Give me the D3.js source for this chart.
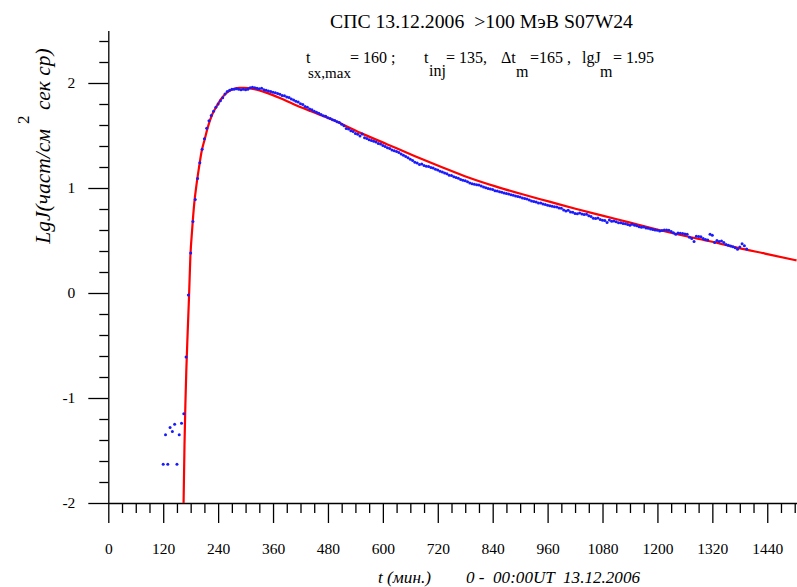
<!DOCTYPE html>
<html>
<head>
<meta charset="utf-8">
<script src="https://cdn.jsdelivr.net/npm/d3@7"></script>
<style>
  body { margin: 0; background: #fff; }
  svg { display: block; }
  text { font-family: "Liberation Serif", "Times New Roman", serif; fill: #000; white-space: pre; }
</style>
</head>
<body>
<div id="svg-container"></div>
<script>
// tick labels
const xMajorTicks = [0, 120, 240, 360, 480, 600, 720, 840, 960, 1080, 1200, 1320, 1440]
const yMajorTicks = [-2, -1, 0, 1, 2]

// observed flux: [t (min), lgJ]
const observed = [
  [120, -1.63], [125, -1.35], [130, -1.63], [135, -1.28], [140, -1.32], [145, -1.25], [150, -1.63], [155, -1.35],
  [160, -1.24], [165, -1.15], [170, -0.61], [175, -0.02], [180, 0.38], [185, 0.68], [190, 0.89], [195, 1.09],
  [200, 1.24], [205, 1.37], [210, 1.47], [215, 1.57], [220, 1.64], [225, 1.69], [230, 1.73], [235, 1.77],
  [240, 1.80], [245, 1.83], [250, 1.86], [255, 1.895], [260, 1.92], [265, 1.93], [270, 1.94], [275, 1.94],
  [280, 1.945], [285, 1.94], [290, 1.935], [295, 1.94], [300, 1.935], [305, 1.94], [310, 1.955], [315, 1.96],
  [320, 1.955], [325, 1.95], [330, 1.945], [335, 1.95], [340, 1.935], [345, 1.93], [350, 1.925], [355, 1.918],
  [360, 1.912], [365, 1.907], [370, 1.899], [375, 1.893], [380, 1.881], [385, 1.878], [390, 1.866], [395, 1.862],
  [400, 1.848], [405, 1.839], [410, 1.826], [415, 1.818], [420, 1.803], [425, 1.795], [430, 1.777], [435, 1.769],
  [440, 1.752], [445, 1.745], [450, 1.732], [455, 1.722], [460, 1.712], [465, 1.70], [470, 1.688], [475, 1.683],
  [480, 1.668], [485, 1.661], [490, 1.650], [495, 1.643], [500, 1.632], [505, 1.625], [510, 1.607], [515, 1.593],
  [520, 1.567], [525, 1.561], [530, 1.545], [535, 1.538], [540, 1.52], [545, 1.512], [550, 1.496], [555, 1.515],
  [560, 1.478], [565, 1.472], [570, 1.46], [575, 1.452], [580, 1.445], [585, 1.438], [590, 1.425], [595, 1.418],
  [600, 1.405], [605, 1.395], [610, 1.384], [615, 1.376], [620, 1.362], [625, 1.355], [630, 1.348], [635, 1.338],
  [640, 1.325], [645, 1.312], [650, 1.30], [655, 1.288], [660, 1.275], [665, 1.262], [670, 1.245], [675, 1.238],
  [680, 1.224], [685, 1.228], [690, 1.215], [695, 1.206], [700, 1.204], [705, 1.196], [710, 1.19], [715, 1.178],
  [720, 1.172], [725, 1.16], [730, 1.152], [735, 1.143], [740, 1.135], [745, 1.122], [750, 1.118], [755, 1.108],
  [760, 1.10], [765, 1.092], [770, 1.08], [775, 1.074], [780, 1.068], [785, 1.06], [790, 1.047], [795, 1.04],
  [800, 1.036], [805, 1.03], [810, 1.028], [815, 1.02], [820, 1.01], [825, 1.002], [830, 0.995], [835, 0.99],
  [840, 0.985], [845, 0.975], [850, 0.972], [855, 0.965], [860, 0.96], [865, 0.952], [870, 0.948], [875, 0.942],
  [880, 0.935], [885, 0.93], [890, 0.925], [895, 0.918], [900, 0.915], [905, 0.905], [910, 0.90], [915, 0.895],
  [920, 0.885], [925, 0.876], [930, 0.872], [935, 0.866], [940, 0.858], [945, 0.856], [950, 0.848], [955, 0.842],
  [960, 0.836], [965, 0.83], [970, 0.826], [975, 0.822], [980, 0.818], [985, 0.81], [990, 0.806], [995, 0.79],
  [1000, 0.782], [1005, 0.788], [1010, 0.772], [1015, 0.768], [1020, 0.758], [1025, 0.755], [1030, 0.762], [1035, 0.752],
  [1040, 0.748], [1045, 0.75], [1050, 0.735], [1055, 0.728], [1060, 0.712], [1065, 0.71], [1070, 0.715], [1075, 0.70],
  [1080, 0.692], [1085, 0.69], [1090, 0.672], [1095, 0.695], [1100, 0.684], [1105, 0.686], [1110, 0.678], [1115, 0.67],
  [1120, 0.668], [1125, 0.663], [1130, 0.66], [1135, 0.652], [1140, 0.645], [1145, 0.655], [1150, 0.645], [1155, 0.64],
  [1160, 0.632], [1165, 0.626], [1170, 0.628], [1175, 0.62], [1180, 0.616], [1185, 0.61], [1190, 0.605], [1195, 0.60],
  [1200, 0.598], [1205, 0.59], [1210, 0.595], [1215, 0.60], [1220, 0.60], [1225, 0.597], [1230, 0.585], [1235, 0.575],
  [1240, 0.56], [1245, 0.572], [1250, 0.57], [1255, 0.566], [1260, 0.563], [1265, 0.56], [1270, 0.53], [1275, 0.52],
  [1280, 0.49], [1285, 0.54], [1290, 0.538], [1295, 0.536], [1300, 0.52], [1305, 0.51], [1310, 0.505], [1315, 0.56],
  [1320, 0.55], [1325, 0.48], [1330, 0.50], [1335, 0.49], [1340, 0.495], [1345, 0.48], [1350, 0.463], [1355, 0.455],
  [1360, 0.448], [1365, 0.44], [1370, 0.43], [1375, 0.416], [1380, 0.438], [1385, 0.47], [1390, 0.45], [1395, 0.42]
]

// fitted curve: [t (min), lgJ]
const fitted = [
  [164.5, -2.0], [166.5, -1.45], [168.5, -1.05], [170.4, -0.75], [173.4, -0.38], [176.3, -0.05], [179.2, 0.33],
  [183.2, 0.6], [188, 0.86], [193, 1.04], [198, 1.19], [204, 1.35], [211, 1.47], [217.5, 1.58], [227, 1.70],
  [237, 1.78], [247, 1.85], [257, 1.90], [267, 1.93], [276.5, 1.948], [286, 1.955], [296, 1.955], [306, 1.952],
  [316, 1.944], [330.5, 1.928], [345, 1.908], [375, 1.857], [404, 1.80], [443, 1.73], [492.5, 1.645], [551, 1.525],
  [610, 1.415], [669, 1.305], [728, 1.2], [787, 1.1], [846, 1.015], [905, 0.94], [964, 0.87], [1023, 0.80],
  [1082, 0.735], [1140.5, 0.67], [1199.5, 0.605], [1258, 0.545], [1317, 0.49], [1376, 0.43], [1435, 0.375], [1504, 0.31]
]

const width = 797
const height = 587
const svg = d3.select('#svg-container').append('svg')
  .attr('width', width).attr('height', height)

//schalen, in pixels van de hele figuur
const x = d3.scaleLinear().domain([0, 1505]).range([108.3, 797])
const y = d3.scaleLinear().domain([-2, 2.5]).range([503, 30.5])

const xMinor = d3.range(0, 1501, 30).filter(d => d % 120 !== 0)
const yMinor = d3.range(-2, 2.51, 0.2).filter(d => Math.abs(d - Math.round(d)) > 0.01)

// x-as
const xAxisG = svg.append('g').attr('transform', `translate(0, ${y(-2)})`)
xAxisG.call(d3.axisBottom(x).tickValues(xMajorTicks).tickSize(20).tickSizeOuter(0).tickFormat(d => String(d)))
xAxisG.append('g').call(d3.axisBottom(x).tickValues(xMinor).tickSize(10).tickFormat(''))
  .select('.domain').remove()
xAxisG.selectAll('.tick text').attr('y', 40).attr('font-size', 15.5)
  .style('font-family', '"Liberation Serif", serif')

// y-as
const yAxisG = svg.append('g').attr('transform', `translate(${x(0)}, 0)`)
yAxisG.call(d3.axisLeft(y).tickValues(yMajorTicks).tickSize(20).tickSizeOuter(0).tickFormat(d => String(d)))
yAxisG.append('g').call(d3.axisLeft(y).tickValues(yMinor).tickSize(9).tickFormat(''))
  .select('.domain').remove()
yAxisG.selectAll('.tick text').attr('x', -33).attr('font-size', 15.5)
  .style('font-family', '"Liberation Serif", serif')

svg.selectAll('.domain, .tick line').attr('stroke', '#000').attr('stroke-width', 1.3)

// fit curve
const line = d3.line()
  .x(d => x(d[0]))
  .y(d => y(d[1]))
  .curve(d3.curveMonotoneX)
svg.append('path')
  .datum(fitted)
  .attr('d', line)
  .attr('fill', 'none')
  .attr('stroke', '#ff0000')
  .attr('stroke-width', 2.2)

// meetpunten
svg.append('g').selectAll('circle')
  .data(observed)
  .enter().append('circle')
  .attr('cx', d => x(d[0]))
  .attr('cy', d => y(d[1]))
  .attr('r', 1.5)
  .attr('fill', '#1a1aff')

// titel
svg.append('text')
  .attr('x', 330).attr('y', 28)
  .attr('font-size', 19)
  .attr('textLength', 303).attr('lengthAdjust', 'spacingAndGlyphs')
  .text('СПС 13.12.2006  >100 МэВ S07W24')

// parameters regel
const params = [
  { t: 't', x: 306, y: 63, s: 16 },
  { t: 'sx,max', x: 308, y: 78, s: 15 },
  { t: '= 160 ;', x: 350, y: 63, s: 16 },
  { t: 't', x: 424, y: 63, s: 16 },
  { t: 'inj', x: 429, y: 76, s: 16 },
  { t: '= 135,', x: 446, y: 63, s: 16 },
  { t: 'Δt', x: 501, y: 63, s: 16 },
  { t: 'm', x: 516, y: 77, s: 16 },
  { t: '=165 ,', x: 530, y: 63, s: 16 },
  { t: 'lgJ', x: 582, y: 63, s: 16 },
  { t: 'm', x: 600, y: 77, s: 16 },
  { t: '= 1.95', x: 613, y: 63, s: 16 }
]
svg.selectAll('text.param')
  .data(params)
  .enter().append('text')
  .attr('class', 'param')
  .attr('x', d => d.x).attr('y', d => d.y)
  .attr('font-size', d => d.s)
  .text(d => d.t)

// as-labels
const yLabel = svg.append('text')
  .attr('transform', 'translate(50, 146) rotate(-90)')
  .attr('text-anchor', 'middle')
  .attr('font-size', 21.5)
  .attr('font-style', 'italic')
yLabel.append('tspan').text('LgJ(част/см')
yLabel.append('tspan').attr('dx', 5).attr('dy', -21).attr('font-size', 17).attr('font-style', 'normal').text('2')
yLabel.append('tspan').attr('dy', 21).text(' сек ср)')

svg.append('text')
  .attr('x', 378).attr('y', 583)
  .attr('font-size', 16).attr('font-style', 'italic')
  .attr('textLength', 53).attr('lengthAdjust', 'spacingAndGlyphs')
  .text('t (мин.)')
svg.append('text')
  .attr('x', 466).attr('y', 583)
  .attr('font-size', 16).attr('font-style', 'italic')
  .attr('textLength', 174).attr('lengthAdjust', 'spacingAndGlyphs')
  .text('0 -  00:00UT  13.12.2006')
</script>
</body>
</html>
